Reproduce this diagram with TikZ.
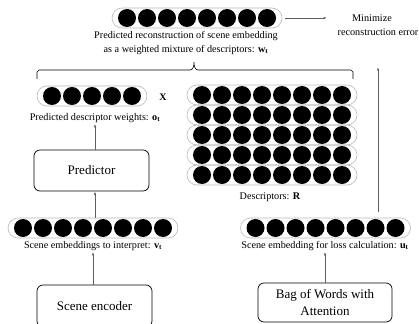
\documentclass[tikz,border=0pt]{standalone}
\usepackage{fontspec}
\setmainfont{Liberation Serif}
\usetikzlibrary{arrows.meta}
\newcommand\embedrow[4]{%
  \node[pill, minimum width={#4*20+10}] (#1) at (#2,#3) {};
  \foreach \i in {1,...,#4} \node[dot] (#1-\i) at ({#2+(\i-(#4+1)/2)*20},#3) {};}
\begin{document}
\begin{tikzpicture}[x=1pt,y=-1pt,
  pill/.style={draw=gray!55, line width=0.6pt, rounded corners=10pt, minimum height=20pt, inner sep=0pt},
  dot/.style={circle, fill=black, minimum size=18pt, inner sep=0pt},
  arr/.style={draw=gray!75!black, line width=0.7pt, -{Latex[length=3.5pt,width=2.5pt]}},
  box/.style={draw, rounded corners=6pt, line width=0.7pt, inner sep=0pt, align=center, font=\fontsize{13}{17}\selectfont},
  lbl/.style={font=\fontsize{10.2}{14}\selectfont, inner sep=1pt, align=center}]
\useasboundingbox (0,0) rectangle (419,323);
% top embedding
\embedrow{top}{197}{18}{8}
\node[lbl] (wlbl) at (186,43) {Predicted reconstruction of scene embedding\\as a weighted mixture of descriptors: \textbf{w}\textsubscript{\textbf{t}}};
\coordinate (ae) at (327,18);
\draw[arr] ([xshift=3pt]top.east) -- (ae);
\node[lbl] (minl) at (372,18) {Minimize};
\node[lbl] (recl) at (378,32) {reconstruction error};
% brace
\draw[line width=0.6pt] (37,79) -- (37,72) -- (39,70) -- (190,70) .. controls (193,70) and (194,66) .. (194,62) .. controls (194,66) and (195,70) .. (198,70) -- (351,70) -- (353,72) -- (353,79);
% weights
\embedrow{ow}{92}{96}{5}
\node[font=\bfseries\fontsize{10}{12}\selectfont] (xs) at (163,97) {X};
% descriptor matrix
\embedrow{r1}{272}{95}{8}
\embedrow{r2}{272}{115}{8}
\embedrow{r3}{272}{135}{8}
\embedrow{r4}{272}{155}{8}
\embedrow{r5}{272}{175}{8}
\node[lbl] (rlbl) at (270,197) {Descriptors: \textbf{R}};
\node[lbl] (olbl) at (95,118) {Predicted descriptor weights: \textbf{o}\textsubscript{\textbf{t}}};
% predictor
\node[box, minimum width=115pt, minimum height=41pt] (pred) at (91.5,170.5) {Predictor};
\draw[arr] (pred.north -| olbl) -- (olbl.south);
% scene embeddings
\embedrow{ve}{93}{228}{8}
\node[lbl] (vlbl) at (93,246) {Scene embeddings to interpret: \textbf{v}\textsubscript{\textbf{t}}};
\draw[arr] (ve.north -| olbl) -- (pred.south -| olbl);
\node[box, minimum width=115pt, minimum height=42pt] (enc) at (94.5,306) {Scene encoder};
\draw[arr] (enc.north -| vlbl) -- (vlbl.south);
% right side
\embedrow{ue}{325.5}{228}{8}
\node[lbl] (ulbl) at (325,246) {Scene embedding for loss calculation: \textbf{u}\textsubscript{\textbf{t}}};
\node[box, minimum width=134pt, minimum height=39pt] (bow) at (325,302.5) {Bag of Words with\\Attention};
\draw[arr] (bow.north -| ulbl) -- (ulbl.south);
\coordinate (rs) at (378,212);
\coordinate (re) at (378,67);
\draw[arr] (rs) -- (re);
\end{tikzpicture}
\end{document}
